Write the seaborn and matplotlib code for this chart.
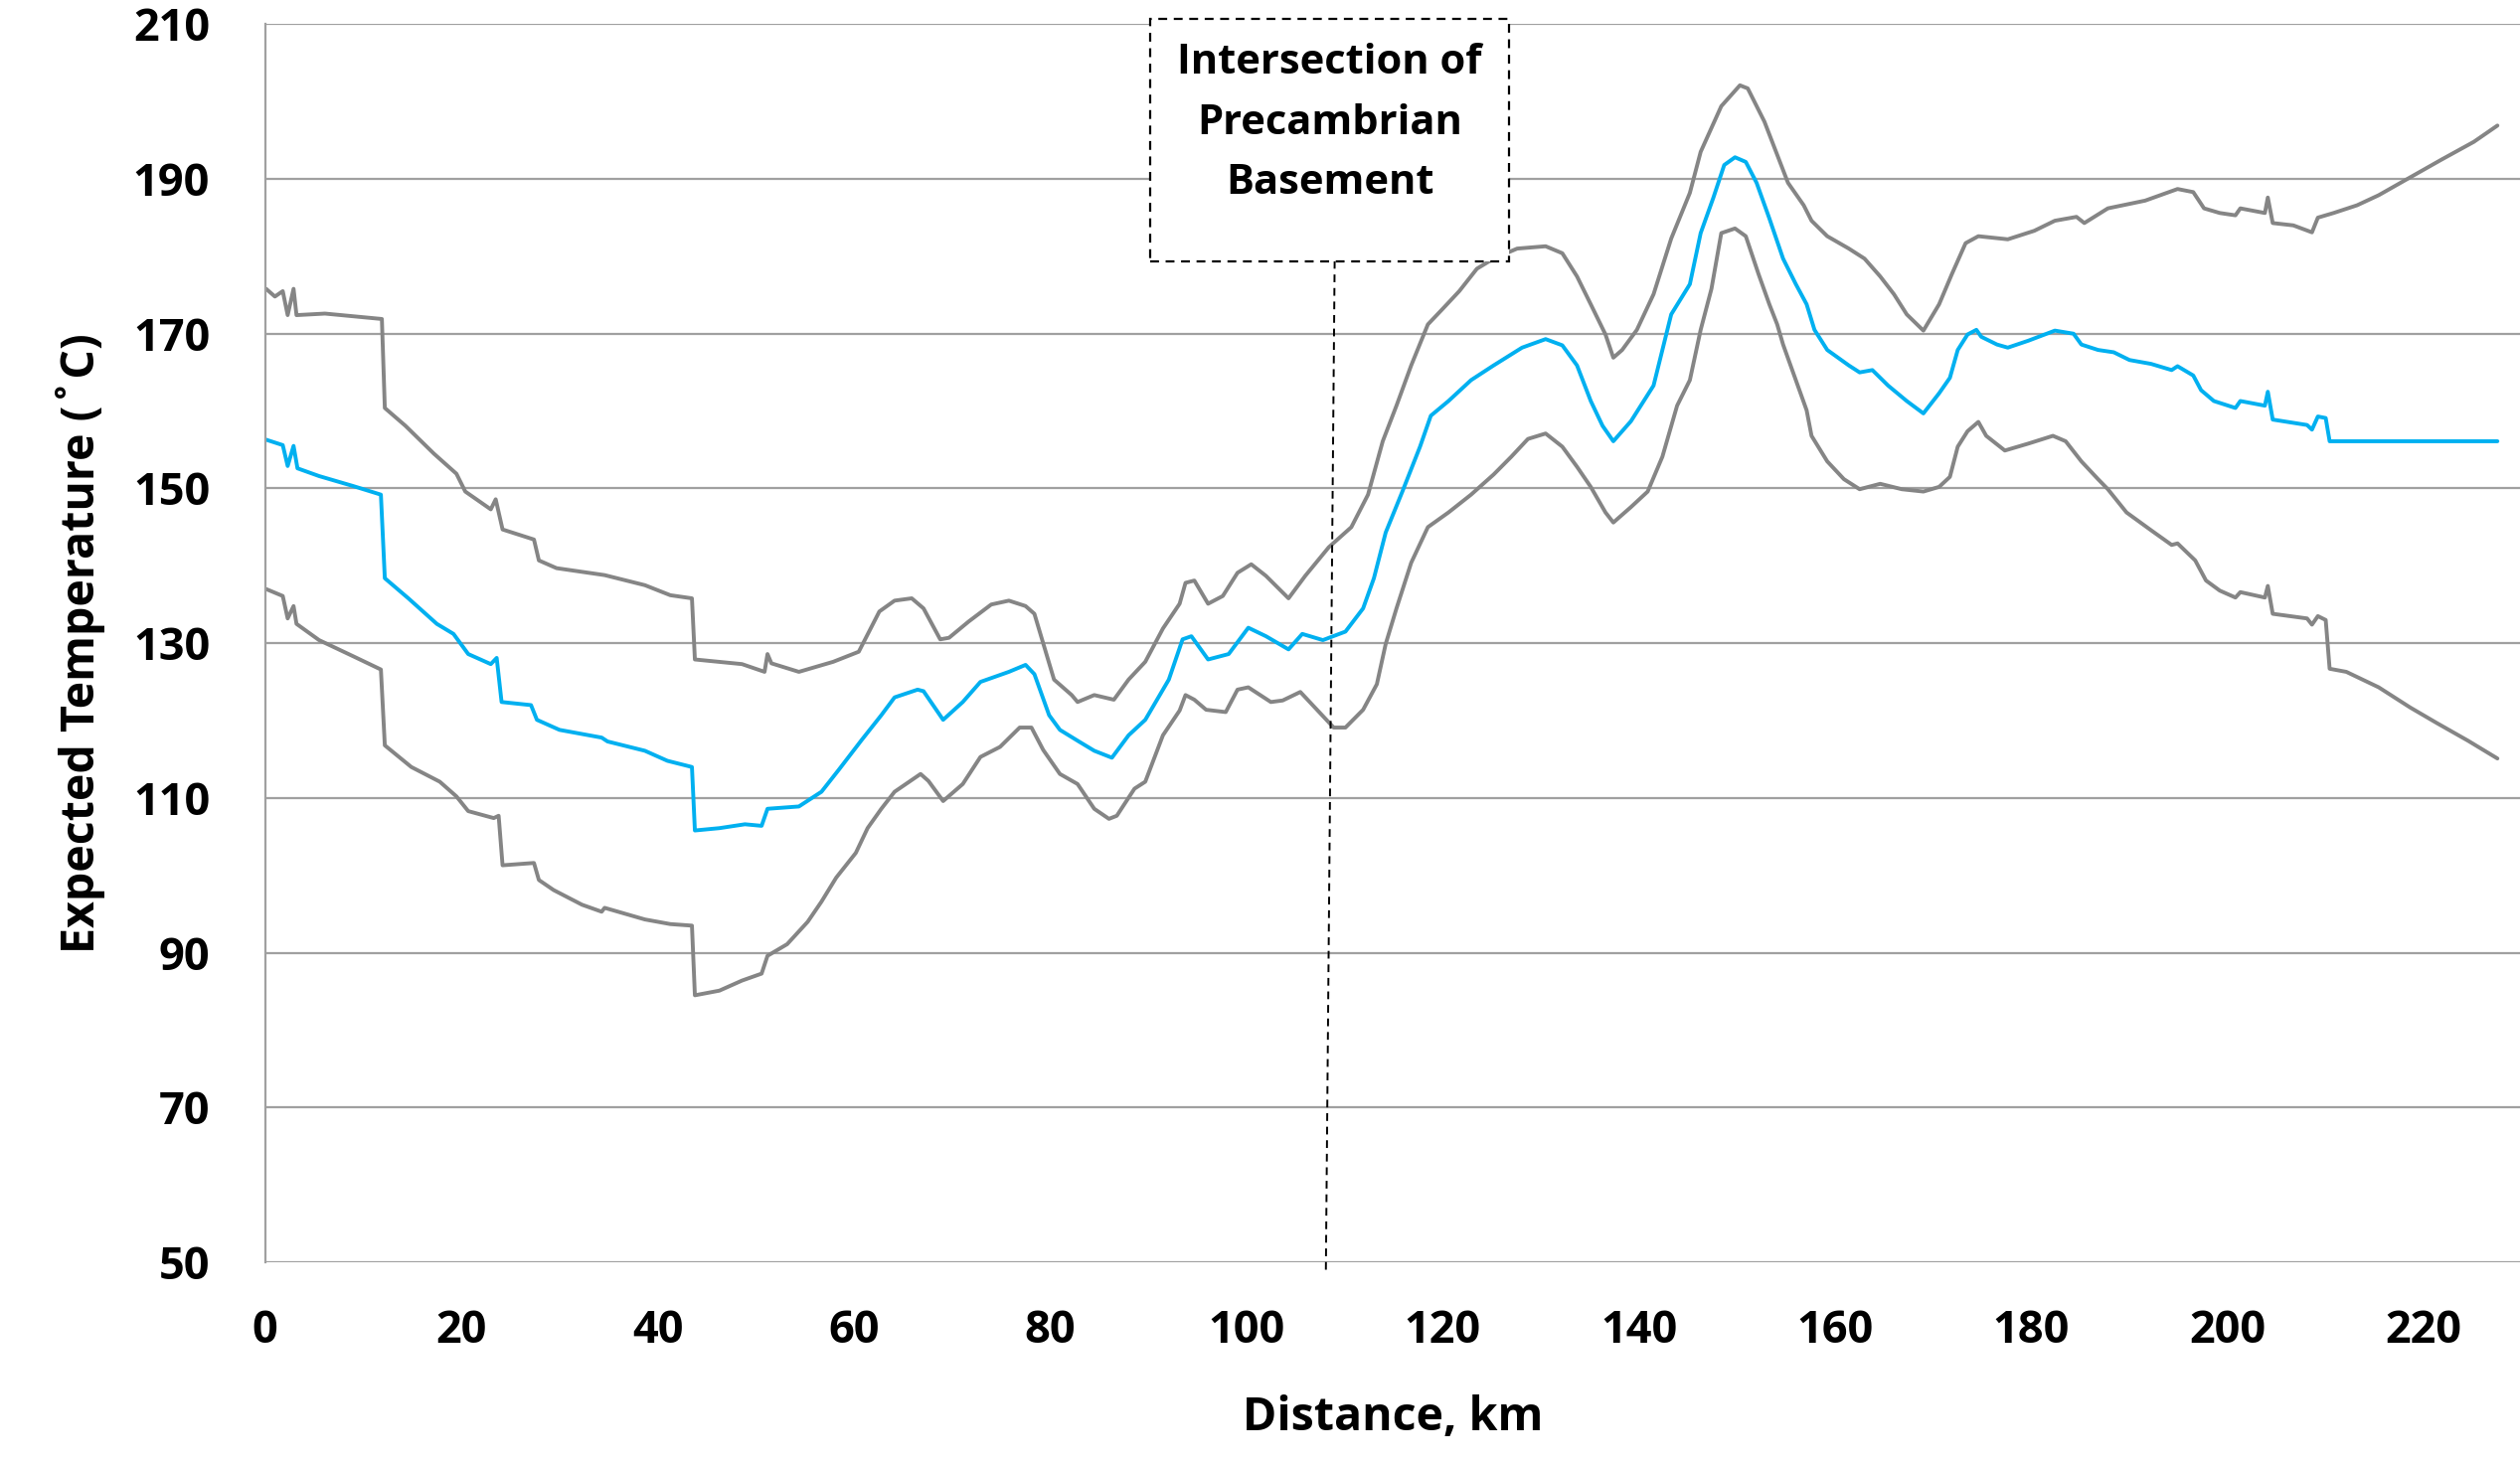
import matplotlib
matplotlib.use("Agg")
import matplotlib.pyplot as plt
import seaborn as sns
import pandas as pd
from matplotlib.patches import Rectangle

# ---------------- data ----------------
upper_km = [0.1, 1.0, 1.8, 2.3, 2.9, 3.2, 6.1, 11.9, 12.2, 14.3, 17.2, 19.5, 20.4, 23.0, 23.5, 24.2,
            27.4, 27.9, 29.7, 34.6, 38.7, 41.3, 43.5, 43.8, 48.6, 50.9, 51.2, 51.6, 54.4, 57.9, 60.5,
            62.6, 64.15, 65.9, 67.1, 68.8, 69.7, 71.7, 74.0, 75.8, 77.5, 78.4, 80.4, 82.2, 82.8, 84.5,
            86.5, 88.0, 89.7, 91.5, 93.2, 93.8, 94.7, 96.1, 97.6, 99.1, 100.5, 102.0, 104.3, 106.0,
            108.4, 110.7, 112.4, 113.9, 115.3, 116.8, 118.5, 120.0, 121.7, 123.5, 125.2, 127.6, 130.5,
            132.2, 133.7, 135.1, 136.6, 137.4, 138.3, 139.8, 141.5, 143.3, 145.2, 146.3, 148.4, 150.3,
            151.1, 152.8, 153.8, 155.2, 156.8, 157.6, 159.2, 161.4, 163.0, 164.6, 166.0, 167.3, 169.0,
            170.6, 171.9, 173.3, 174.6, 177.6, 180.3, 182.4, 184.6, 185.4, 187.8, 191.6, 194.9, 196.5,
            197.6, 199.2, 200.8, 201.3, 203.8, 204.1, 204.6, 206.7, 208.6, 209.2, 210.8, 213.2, 215.4,
            218.6, 221.8, 225.1, 227.5]
upper_t = [175.8, 174.8, 175.5, 172.4, 175.8, 172.4, 172.6, 171.9, 160.4, 158.1, 154.5, 151.9, 149.6,
           147.3, 148.6, 144.7, 143.4, 140.7, 139.7, 138.8, 137.5, 136.2, 135.8, 127.9, 127.3, 126.3,
           128.6, 127.4, 126.3, 127.6, 128.9, 134.1, 135.5, 135.8, 134.5, 130.5, 130.7, 132.8, 135.0,
           135.5, 134.8, 133.8, 125.3, 123.3, 122.4, 123.3, 122.7, 125.3, 127.6, 131.9, 135.1, 137.8,
           138.1, 135.1, 136.1, 139.1, 140.2, 138.7, 135.8, 138.7, 142.4, 145.0, 149.2, 156.1, 160.7,
           165.9, 171.2, 173.2, 175.5, 178.4, 179.7, 181.0, 181.3, 180.4, 177.4, 173.8, 169.9, 166.9,
           167.9, 170.5, 175.1, 182.3, 188.2, 193.5, 199.4, 202.1, 201.7, 197.4, 194.1, 189.5, 186.6,
           184.6, 182.6, 181.0, 179.7, 177.4, 175.1, 172.5, 170.4, 173.8, 177.7, 181.7, 182.6, 182.2,
           183.3, 184.6, 185.1, 184.3, 186.2, 187.2, 188.7, 188.3, 186.2, 185.6, 185.3, 186.2, 185.6,
           187.6, 184.3, 184.0, 183.1, 185.0, 185.6, 186.6, 187.9, 190.2, 192.5, 194.8, 196.9]

mid_km = [0.1, 1.8, 2.3, 2.9, 3.3, 5.5, 9.0, 11.8, 12.2, 14.6, 17.5, 19.2, 20.7, 23.0, 23.6, 24.1,
          27.1, 27.7, 30.0, 34.3, 34.9, 38.7, 41.0, 43.5, 43.8, 46.3, 48.9, 50.6, 51.2, 54.4, 56.7,
          58.5, 60.8, 62.8, 64.15, 66.5, 67.1, 69.1, 71.1, 72.9, 75.8, 77.5, 78.4, 79.9, 81.0, 82.8,
          84.5, 86.3, 88.0, 89.7, 92.1, 93.5, 94.4, 96.1, 98.2, 100.2, 102.0, 104.3, 105.7, 107.8,
          110.1, 111.9, 113.0, 114.2, 115.9, 117.7, 118.8, 120.6, 122.9, 125.2, 128.1, 130.5, 132.2,
          133.7, 135.1, 136.3, 137.4, 139.2, 141.5, 143.3, 145.2, 146.3, 147.6, 148.7, 149.8, 150.9,
          152.0, 153.3, 154.7, 156.0, 157.1, 157.9, 159.2, 161.4, 162.5, 163.8, 165.4, 167.3, 169.0,
          170.6, 171.7, 172.5, 173.5, 174.4, 174.9, 176.5, 177.6, 179.7, 182.4, 184.3, 185.1, 186.8,
          188.4, 190.0, 192.2, 194.3, 194.9, 196.5, 197.3, 198.6, 200.8, 201.3, 203.8, 204.1, 204.6,
          208.1, 208.6, 209.2, 210.0, 210.4, 227.5]
mid_t = [156.3, 155.6, 152.9, 155.5, 152.6, 151.6, 150.3, 149.2, 138.4, 135.8, 132.5, 131.2, 128.6,
         127.3, 128.1, 122.4, 122.0, 120.1, 118.8, 117.8, 117.3, 116.1, 114.8, 114.0, 105.8, 106.1,
         106.6, 106.4, 108.6, 108.9, 110.8, 113.7, 117.5, 120.7, 123.0, 124.0, 123.8, 120.1, 122.4,
         125.0, 126.3, 127.2, 126.0, 120.7, 118.8, 117.4, 116.1, 115.2, 118.1, 120.1, 125.3, 130.5,
         130.9, 127.9, 128.6, 132.0, 130.9, 129.2, 131.2, 130.4, 131.5, 134.5, 138.4, 144.3, 149.6,
         155.4, 159.4, 161.3, 164.0, 165.9, 168.2, 169.3, 168.5, 165.9, 161.3, 158.1, 156.1, 158.7,
         163.3, 172.5, 176.4, 183.0, 187.6, 191.8, 192.8, 192.2, 189.5, 184.9, 179.7, 176.4, 173.8,
         170.5, 167.9, 165.9, 165.0, 165.3, 163.3, 161.3, 159.7, 162.3, 164.3, 167.9, 169.9, 170.5,
         169.6, 168.6, 168.2, 169.1, 170.4, 170.0, 168.6, 167.9, 167.6, 166.6, 166.1, 165.3, 165.8,
         164.6, 162.7, 161.3, 160.4, 161.3, 160.7, 162.5, 158.9, 158.2, 157.6, 159.3, 159.1, 156.1,
         156.1]

lower_km = [0.1, 1.8, 2.3, 2.9, 3.2, 5.5, 9.0, 11.8, 12.2, 14.9, 17.8, 19.5, 20.7, 23.3, 23.8, 24.2,
            27.4, 27.9, 29.4, 32.3, 34.3, 34.6, 38.7, 41.3, 43.5, 43.8, 46.3, 48.6, 50.6, 51.2, 53.2,
            55.3, 56.7, 58.2, 60.2, 61.4, 62.8, 64.15, 66.8, 67.6, 69.1, 71.1, 72.9, 74.9, 76.9, 78.1,
            79.3, 81.0, 82.8, 84.5, 86.0, 86.8, 88.6, 89.7, 91.5, 93.2, 93.8, 94.7, 95.9, 97.9, 99.1,
            100.2, 102.5, 103.7, 105.5, 107.2, 108.9, 110.1, 111.9, 113.3, 114.2, 115.3, 116.8, 118.5,
            120.6, 122.9, 125.2, 127.0, 128.7, 130.5, 132.2, 133.7, 135.1, 136.6, 137.4, 139.2, 140.9,
            142.4, 143.9, 145.2, 146.3, 147.4, 148.4, 149.8, 150.9, 152.2, 153.3, 154.1, 154.7, 156.0,
            157.1, 157.6, 159.2, 160.9, 162.5, 164.6, 166.8, 169.0, 170.6, 171.7, 172.5, 173.5, 174.6,
            175.4, 177.3, 179.7, 182.2, 183.5, 185.1, 186.8, 187.8, 189.7, 192.2, 194.3, 194.9, 196.7,
            197.8, 199.2, 200.8, 201.3, 203.8, 204.1, 204.6, 208.1, 208.6, 209.2, 210.0, 210.4, 212.1,
            215.4, 218.6, 221.3, 224.5, 227.5]
lower_t = [137.0, 136.1, 133.2, 134.8, 132.5, 130.4, 128.3, 126.6, 116.8, 114.0, 112.1, 110.2, 108.3,
           107.4, 107.7, 101.3, 101.6, 99.4, 98.1, 96.2, 95.3, 95.8, 94.3, 93.7, 93.5, 84.5, 85.1,
           86.4, 87.3, 89.6, 91.1, 94.0, 96.6, 99.7, 102.9, 106.1, 108.6, 110.8, 113.1, 112.2, 109.6,
           111.8, 115.3, 116.6, 119.1, 119.1, 116.2, 113.1, 111.8, 108.6, 107.3, 107.7, 111.2, 112.1,
           118.1, 121.3, 123.3, 122.7, 121.4, 121.1, 124.0, 124.3, 122.4, 122.6, 123.7, 121.4, 119.1,
           119.1, 121.4, 124.7, 129.9, 134.5, 140.4, 145.0, 146.9, 149.2, 151.8, 154.1, 156.4, 157.1,
           155.4, 152.8, 150.2, 146.9, 145.6, 147.6, 149.6, 154.1, 160.7, 164.0, 170.5, 175.8, 183.0,
           183.6, 182.6, 177.7, 173.8, 171.2, 168.6, 164.0, 160.1, 156.8, 153.5, 151.2, 149.9, 150.6,
           149.9, 149.6, 150.2, 151.5, 155.4, 157.4, 158.6, 156.8, 154.9, 155.8, 156.8, 156.1, 153.5,
           151.2, 149.9, 146.9, 144.6, 142.7, 142.9, 140.7, 138.1, 136.8, 135.9, 136.6, 135.9, 137.4,
           133.8, 133.2, 132.4, 133.5, 133.0, 126.7, 126.3, 124.3, 121.7, 119.7, 117.4, 115.1]

x_ticks = [0, 20, 40, 60, 80, 100, 120, 140, 160, 180, 200, 220]
y_ticks = [50, 70, 90, 110, 130, 150, 170, 190, 210]
note_lines = ["Intersection of", "Precambrian", "Basement"]

# ---------------- styling ----------------
sns.set_theme(style="white")
FONT = ["Open Sans", "DejaVu Sans"]
plt.rcParams["font.family"] = FONT
plt.rcParams["font.weight"] = "bold"
for k in ["text.color", "axes.labelcolor", "xtick.color", "ytick.color"]:
    plt.rcParams[k] = "black"

GREY = "#858585"
BLUE = "#00B0F0"
GRID = "#A0A0A0"
FS = 32.5
FS_LAB = 33.5

fig = plt.figure(figsize=(25.35, 14.75), dpi=100)
ax = fig.add_axes([0.1052, 0.139, 1 - 0.1052, 0.9835 - 0.139])

sns.lineplot(x=upper_km, y=upper_t, ax=ax, color=GREY, linewidth=2.8, sort=False, estimator=None)
sns.lineplot(x=mid_km, y=mid_t, ax=ax, color=BLUE, linewidth=2.8, sort=False, estimator=None)
sns.lineplot(x=lower_km, y=lower_t, ax=ax, color=GREY, linewidth=2.8, sort=False, estimator=None)

ax.set_xlim(0, 229.8)
ax.set_ylim(50, 210)
ax.set_xticks(x_ticks)
ax.set_yticks(y_ticks)
ax.set_xticklabels([str(v) for v in x_ticks], fontsize=FS, fontweight="bold", color="black")
ax.set_yticklabels([str(v) for v in y_ticks], fontsize=FS, fontweight="bold", color="black")
ax.tick_params(axis="both", length=0)
ax.tick_params(axis="y", pad=40)
ax.tick_params(axis="x", pad=34)

ax.yaxis.grid(True, color=GRID, linewidth=1.6)
ax.xaxis.grid(False)
ax.set_axisbelow(True)
for s in ["top", "right", "bottom"]:
    ax.spines[s].set_visible(False)
ax.spines["left"].set_color(GRID)
ax.spines["left"].set_linewidth(1.6)

ax.set_xlabel("Distance, km", fontsize=FS_LAB, fontweight="bold", va="center", color="black")
ax.set_ylabel("Expected Temperature (˚C)", fontsize=FS_LAB, fontweight="bold", va="center",
              color="black")
ax.xaxis.set_label_coords(0.5, -0.1257)
ax.yaxis.set_label_coords(-0.0819, 0.5)

# annotation box
box = Rectangle((90.2, 179.4), 126.8 - 90.2, 210.7 - 179.4, facecolor="white",
                edgecolor="black", linewidth=1.6, linestyle=(0, (4, 3)),
                clip_on=False, zorder=5)
ax.add_patch(box)
for txt, yy in zip(note_lines, [204.94, 197.08, 189.4]):
    ax.text(108.5, yy, txt, ha="center", va="center", fontsize=30,
            fontweight="bold", zorder=6, family=FONT, color="black")
ax.plot([109.0, 108.1], [179.4, 48.3], color="black", linewidth=1.4,
        linestyle=(0, (4, 3)), clip_on=False, zorder=4)

fig.savefig("out.png", dpi=100)
